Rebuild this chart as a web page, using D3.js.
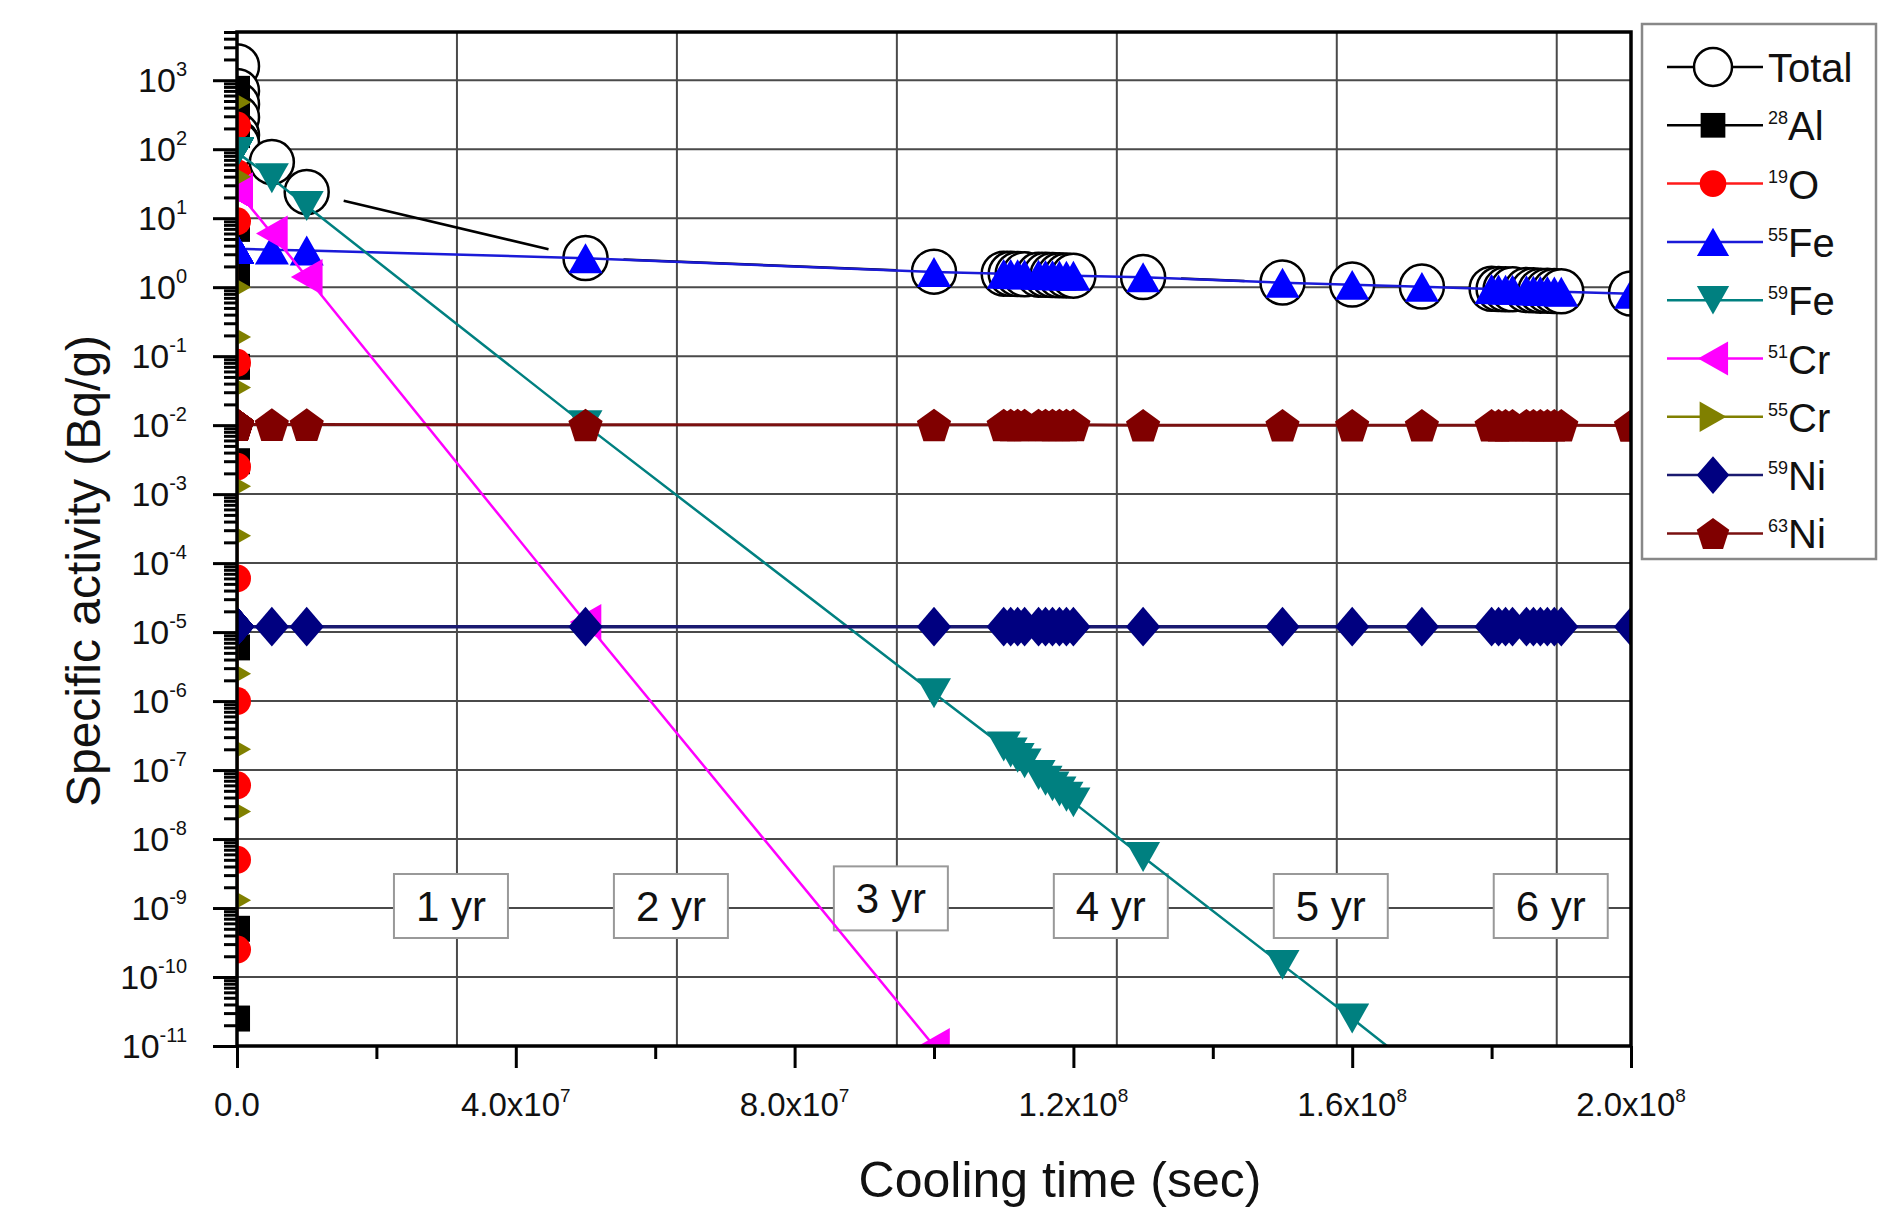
<!DOCTYPE html>
<html>
<head>
<meta charset="utf-8">
<script src="https://cdn.jsdelivr.net/npm/d3@7"></script>
<style>
  body { margin: 0; background: #fff; }
  text { font-family: Arial, "Liberation Sans", sans-serif; fill: #111; }
</style>
</head>
<body>
<div id="chart"></div>
<script>
var width = 1886;
var height = 1210;
var margin = {top: 32, left: 237, right: 255, bottom: 164};

// cooling time (s)
var times = [0, 60, 120, 300, 600, 900, 1200, 1800, 2400, 3000, 3600, 4800,
  5e6, 1e7, 5e7, 1e8,
  1.10e8, 1.11e8, 1.12e8, 1.13e8, 1.15e8, 1.16e8, 1.17e8, 1.18e8, 1.19e8, 1.20e8,
  1.3e8, 1.5e8, 1.6e8, 1.7e8,
  1.80e8, 1.81e8, 1.82e8, 1.83e8, 1.85e8, 1.86e8, 1.87e8, 1.88e8, 1.89e8, 1.90e8,
  2.0e8];

// specific activity (Bq/g), null = not plotted
var total = [1600, 700, 450, 290, 160, 125, 121, 119, 119, 119, 119, 119,
  65, 24, 2.65, 1.68,
  1.57, 1.56, 1.55, 1.54, 1.52, 1.51, 1.50, 1.49, 1.48, 1.47,
  1.40, 1.17, 1.09, 1.02,
  0.95, 0.94, 0.93, 0.93, 0.91, 0.90, 0.89, 0.89, 0.88, 0.87,
  0.81];
var al28 = [750, 550, 400, 160, 33, 7, 1.5, 0.07, 3e-3, 6e-6, 5e-10, 2.5e-11,
  null, null, null, null,
  null, null, null, null, null, null, null, null, null, null,
  null, null, null, null,
  null, null, null, null, null, null, null, null, null, null,
  null];
var o19 = [220, 45, 9, 0.08, 2.5e-3, 6e-5, 1e-6, 6e-8, 5e-9, 2.5e-10, null, null,
  null, null, null, null,
  null, null, null, null, null, null, null, null, null, null,
  null, null, null, null,
  null, null, null, null, null, null, null, null, null, null,
  null];
var fe55 = [3.6, 3.6, 3.6, 3.6, 3.6, 3.6, 3.6, 3.6, 3.6, 3.6, 3.6, 3.6,
  3.5, 3.4, 2.63, 1.66,
  1.56, 1.55, 1.54, 1.53, 1.51, 1.50, 1.49, 1.48, 1.47, 1.46,
  1.39, 1.16, 1.08, 1.01,
  0.94, 0.93, 0.92, 0.92, 0.90, 0.89, 0.88, 0.88, 0.87, 0.86,
  0.80];
var fe59 = [90, 90, 90, 90, 90, 90, 90, 90, 90, 90, 90, 90,
  38, 15, 1.0e-2, 1.3e-6,
  2.2e-7, 1.8e-7, 1.5e-7, 1.25e-7, 8.5e-8, 7.0e-8, 5.8e-8, 4.9e-8, 4.1e-8, 3.4e-8,
  5.5e-9, 1.5e-10, 2.5e-11, 4e-12,
  null, null, null, null, null, null, null, null, null, null,
  null];
var cr51 = [25, 25, 25, 25, 25, 25, 25, 25, 25, 25, 25, 25,
  6, 1.4, 1.4e-5, 1.0e-11,
  null, null, null, null, null, null, null, null, null, null,
  null, null, null, null,
  null, null, null, null, null, null, null, null, null, null,
  null];
var cr55 = [480, 40, 1.0, 0.19, 0.035, 1.3e-3, 2.5e-4, 2.5e-6, 2e-7, 2.5e-8, 1.3e-9, null,
  null, null, null, null,
  null, null, null, null, null, null, null, null, null, null,
  null, null, null, null,
  null, null, null, null, null, null, null, null, null, null,
  null];
var ni59 = [1.2e-5, 1.2e-5, 1.2e-5, 1.2e-5, 1.2e-5, 1.2e-5, 1.2e-5, 1.2e-5, 1.2e-5, 1.2e-5, 1.2e-5, 1.2e-5,
  1.2e-5, 1.2e-5, 1.2e-5, 1.2e-5,
  1.2e-5, 1.2e-5, 1.2e-5, 1.2e-5, 1.2e-5, 1.2e-5, 1.2e-5, 1.2e-5, 1.2e-5, 1.2e-5,
  1.2e-5, 1.2e-5, 1.2e-5, 1.2e-5,
  1.2e-5, 1.2e-5, 1.2e-5, 1.2e-5, 1.2e-5, 1.2e-5, 1.2e-5, 1.2e-5, 1.2e-5, 1.2e-5,
  1.2e-5];
var ni63 = [0.0102, 0.0102, 0.0102, 0.0102, 0.0102, 0.0102, 0.0102, 0.0102, 0.0102, 0.0102, 0.0102, 0.0102,
  0.0102, 0.0102, 0.0101, 0.0101,
  0.0101, 0.0101, 0.0101, 0.0101, 0.0101, 0.0101, 0.0101, 0.0101, 0.0101, 0.0101,
  0.0100, 0.0100, 0.0100, 0.0100,
  0.0100, 0.0100, 0.0100, 0.0100, 0.0100, 0.0100, 0.0100, 0.0100, 0.0100, 0.0100,
  0.0099];

// axis ticks
var xTicks = [0, 4e7, 8e7, 1.2e8, 1.6e8, 2e8];
var xTickMant = ["0.0", "4.0x10", "8.0x10", "1.2x10", "1.6x10", "2.0x10"];
var xTickExp = ["", "7", "7", "8", "8", "8"];
var xMinorTicks = [2e7, 6e7, 1e8, 1.4e8, 1.8e8];
var yTicks = [1e-11, 1e-10, 1e-9, 1e-8, 1e-7, 1e-6, 1e-5, 1e-4, 1e-3, 1e-2, 1e-1, 1, 10, 100, 1000];
var yTickExp = ["-11", "-10", "-9", "-8", "-7", "-6", "-5", "-4", "-3", "-2", "-1", "0", "1", "2", "3"];

// year annotations
var yearNums = [1, 2, 3, 4, 5, 6];
var yearText = ["1 yr", "2 yr", "3 yr", "4 yr", "5 yr", "6 yr"];
var yearBoxLevel = [1.07e-9, 1.07e-9, 1.38e-9, 1.07e-9, 1.07e-9, 1.07e-9];
var secPerYear = 3.15576e7;

var svg = d3.select("#chart")
  .append("svg")
  .attr("width", width)
  .attr("height", height);

var x = d3.scaleLinear()
  .domain([0, 2e8])
  .range([margin.left, width - margin.right]);

var y = d3.scaleLog()
  .domain([1e-11, 5e3])
  .range([height - margin.bottom, margin.top]);

var pw = width - margin.right - margin.left;
var ph = height - margin.bottom - margin.top;

svg.append("clipPath").attr("id", "clip")
  .append("rect")
  .attr("x", margin.left).attr("y", margin.top)
  .attr("width", pw).attr("height", ph);

// grid
var grid = svg.append("g");
grid.selectAll("line.h")
  .data(yTicks.slice(1))
  .enter().append("line")
  .attr("x1", margin.left).attr("x2", width - margin.right)
  .attr("y1", function(d) { return y(d); })
  .attr("y2", function(d) { return y(d); })
  .attr("stroke", "#4a4a4a").attr("stroke-width", 2);
grid.selectAll("line.v")
  .data(yearNums)
  .enter().append("line")
  .attr("y1", margin.top).attr("y2", height - margin.bottom)
  .attr("x1", function(d) { return x(d * secPerYear); })
  .attr("x2", function(d) { return x(d * secPerYear); })
  .attr("stroke", "#4a4a4a").attr("stroke-width", 2);

// year boxes
var yb = svg.append("g").selectAll("g")
  .data(yearNums)
  .enter().append("g")
  .attr("transform", function(d, i) {
    return "translate(" + (x(d * secPerYear) - 6) + "," + y(yearBoxLevel[i]) + ")";
  });
yb.append("rect")
  .attr("x", -57).attr("y", -32).attr("width", 114).attr("height", 64)
  .attr("fill", "#fff").attr("stroke", "#999").attr("stroke-width", 2);
yb.append("text")
  .attr("text-anchor", "middle").attr("y", 15)
  .style("font-size", "42px")
  .text(function(d, i) { return yearText[i]; });

// marker shapes
function shapePath(type, s) {
  var h = s * 0.88, r = s / 2;
  switch (type) {
    case "circle":
      return "M" + r + ",0A" + r + "," + r + " 0 1,1 " + (-r) + ",0A" + r + "," + r + " 0 1,1 " + r + ",0Z";
    case "square":
      return "M" + (-r) + "," + (-r) + "H" + r + "V" + r + "H" + (-r) + "Z";
    case "up":
      return "M0," + (-h / 2) + "L" + r + "," + (h / 2) + "L" + (-r) + "," + (h / 2) + "Z";
    case "down":
      return "M0," + (h / 2) + "L" + r + "," + (-h / 2) + "L" + (-r) + "," + (-h / 2) + "Z";
    case "left":
      return "M" + (-h / 2) + ",0L" + (h / 2) + "," + (-r) + "L" + (h / 2) + "," + r + "Z";
    case "right":
      return "M" + (h / 2) + ",0L" + (-h / 2) + "," + (-r) + "L" + (-h / 2) + "," + r + "Z";
    case "diamond":
      return "M0," + (-r * 1.1) + "L" + (r * 0.95) + ",0L0," + (r * 1.1) + "L" + (-r * 0.95) + ",0Z";
    case "pentagon":
      var p = d3.range(5).map(function(k) {
        var a = -Math.PI / 2 + k * 2 * Math.PI / 5;
        return [r * Math.cos(a), r * Math.sin(a) + r * 0.1];
      });
      return "M" + p.join("L") + "Z";
  }
}

var series = [
  {mass: "",   name: "Total", values: total, color: "#000",    fill: "#fff",    shape: "circle",   size: 44, lw: 2.5, gap: 38},
  {mass: "28", name: "Al",    values: al28,  color: "#000",    fill: "#000",    shape: "square",   size: 26, lw: 2.5},
  {mass: "19", name: "O",     values: o19,   color: "#ff1a1a", fill: "#ff0000", shape: "circle",   size: 28, lw: 2.5},
  {mass: "55", name: "Fe",    values: fe55,  color: "#1a1ad8", fill: "#0000ff", shape: "up",       size: 34, lw: 2.5},
  {mass: "59", name: "Fe",    values: fe59,  color: "#008080", fill: "#008080", shape: "down",     size: 34, lw: 2.5},
  {mass: "51", name: "Cr",    values: cr51,  color: "#ff00ff", fill: "#ff00ff", shape: "left",     size: 36, lw: 2.5},
  {mass: "55", name: "Cr",    values: cr55,  color: "#808000", fill: "#808000", shape: "right",    size: 32, lw: 2.5},
  {mass: "59", name: "Ni",    values: ni59,  color: "#1a1a70", fill: "#000080", shape: "diamond",  size: 36, lw: 3.5},
  {mass: "63", name: "Ni",    values: ni63,  color: "#7a1010", fill: "#800000", shape: "pentagon", size: 36, lw: 3}
];

var line = d3.line()
  .x(function(d) { return x(d.t); })
  .y(function(d) { return y(d.v); });

var plot = svg.append("g").attr("clip-path", "url(#clip)");

series.forEach(function(s) {
  var pts = times.map(function(t, i) { return {t: t, v: s.values[i]}; })
    .filter(function(d) { return d.v != null; });
  var g = plot.append("g");
  if (s.gap) {
    // Origin style: line stops short of each symbol
    for (var i = 0; i < pts.length - 1; i++) {
      var x1 = x(pts[i].t), y1 = y(pts[i].v), x2 = x(pts[i + 1].t), y2 = y(pts[i + 1].v);
      var len = Math.hypot(x2 - x1, y2 - y1);
      if (len <= 2 * s.gap) continue;
      var ux = (x2 - x1) / len, uy = (y2 - y1) / len;
      g.append("line")
        .attr("x1", x1 + ux * s.gap).attr("y1", y1 + uy * s.gap)
        .attr("x2", x2 - ux * s.gap).attr("y2", y2 - uy * s.gap)
        .attr("stroke", s.color).attr("stroke-width", s.lw);
    }
  } else {
    g.append("path").datum(pts)
      .attr("d", line)
      .attr("fill", "none")
      .attr("stroke", s.color)
      .attr("stroke-width", s.lw);
  }
  g.selectAll("path.m")
    .data(pts)
    .enter().append("path")
    .attr("transform", function(d) { return "translate(" + x(d.t) + "," + y(d.v) + ")"; })
    .attr("d", shapePath(s.shape, s.size))
    .attr("fill", s.fill)
    .attr("stroke", s.gap ? s.color : "none")
    .attr("stroke-width", 2.5);
});

// frame
svg.append("rect")
  .attr("x", margin.left).attr("y", margin.top)
  .attr("width", pw).attr("height", ph)
  .attr("fill", "none").attr("stroke", "#000").attr("stroke-width", 3.5);

// axes
var xAxis = svg.append("g")
  .attr("transform", "translate(0," + (height - margin.bottom) + ")")
  .call(d3.axisBottom(x).tickValues(xTicks).tickSize(22).tickFormat(""));
var xMinor = svg.append("g")
  .attr("transform", "translate(0," + (height - margin.bottom) + ")")
  .call(d3.axisBottom(x).tickValues(xMinorTicks).tickSize(13).tickFormat(""));

var yMinorVals = [];
yTicks.forEach(function(d) {
  for (var m = 2; m <= 9; m++) if (d * m <= 5e3) yMinorVals.push(d * m);
});
var yAxis = svg.append("g")
  .attr("transform", "translate(" + margin.left + ",0)")
  .call(d3.axisLeft(y).tickValues(yTicks).tickSize(24).tickFormat(""));
var yMinor = svg.append("g")
  .attr("transform", "translate(" + margin.left + ",0)")
  .call(d3.axisLeft(y).tickValues(yMinorVals).tickSize(13).tickFormat(""));

svg.selectAll(".domain").remove();
svg.selectAll(".tick line").attr("stroke", "#000").attr("stroke-width", 3);

// tick labels
var xl = svg.append("g").selectAll("text")
  .data(xTicks)
  .enter().append("text")
  .attr("x", function(d) { return x(d); })
  .attr("y", height - margin.bottom + 70)
  .attr("text-anchor", "middle")
  .style("font-size", "33px");
xl.append("tspan").text(function(d, i) { return xTickMant[i]; });
xl.append("tspan")
  .attr("dy", -14).style("font-size", "19px")
  .text(function(d, i) { return xTickExp[i]; });

var yl = svg.append("g").selectAll("text")
  .data(yTicks)
  .enter().append("text")
  .attr("x", margin.left - 50)
  .attr("y", function(d) { return y(d) + 12; })
  .attr("text-anchor", "end")
  .style("font-size", "34px");
yl.append("tspan").text("10");
yl.append("tspan")
  .attr("dy", -16).style("font-size", "20px")
  .text(function(d, i) { return yTickExp[i]; });

// axis titles
svg.append("text")
  .attr("x", 1060).attr("y", 1197)
  .attr("text-anchor", "middle")
  .style("font-size", "50px")
  .text("Cooling time (sec)");
svg.append("text")
  .attr("transform", "translate(100,571) rotate(-90)")
  .attr("text-anchor", "middle")
  .style("font-size", "48px")
  .text("Specific activity (Bq/g)");

// legend
var lg = svg.append("g");
lg.append("rect")
  .attr("x", 1642).attr("y", 24).attr("width", 234).attr("height", 535)
  .attr("fill", "#fff").attr("stroke", "#888").attr("stroke-width", 2.5);
var li = lg.selectAll("g.item")
  .data(series)
  .enter().append("g")
  .attr("transform", function(d, i) { return "translate(0," + (67 + i * 58.3) + ")"; });
li.append("line")
  .attr("x1", 1667).attr("x2", 1763)
  .attr("stroke", function(d) { return d.color; })
  .attr("stroke-width", 2.5);
li.append("path")
  .attr("transform", "translate(1713,0)")
  .attr("d", function(d) { return shapePath(d.shape, d.gap ? 38 : d.size * 0.95); })
  .attr("fill", function(d) { return d.fill; })
  .attr("stroke", function(d) { return d.gap ? d.color : "none"; })
  .attr("stroke-width", 2.5);
var lt = li.append("text")
  .attr("x", 1768).attr("y", 15)
  .style("font-size", "40px");
lt.append("tspan")
  .attr("dy", function(d) { return d.mass ? -16 : 0; })
  .style("font-size", "18px")
  .text(function(d) { return d.mass; });
lt.append("tspan")
  .attr("dy", function(d) { return d.mass ? 16 : 0; })
  .text(function(d) { return d.name; });
</script>
</body>
</html>
